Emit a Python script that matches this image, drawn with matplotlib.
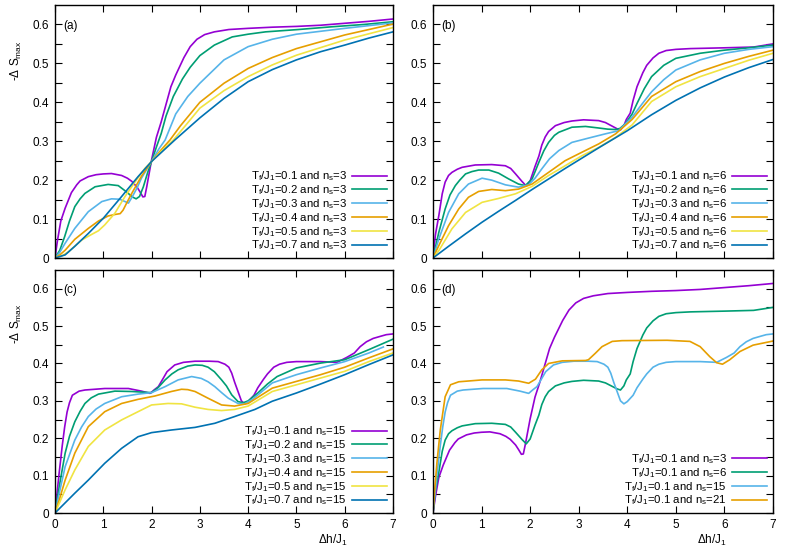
import matplotlib
matplotlib.use('Agg')
import matplotlib.pyplot as plt
import matplotlib.transforms as mtransforms

plt.rcParams['font.family'] = ['Liberation Sans', 'DejaVu Sans']
plt.rcParams['mathtext.default'] = 'regular'
plt.rcParams['font.size'] = 8.5

# gnuplot default colours
purple = '#9400d3'
green = '#009e73'
skyblue = '#56b4e9'
orange = '#e69f00'
yellow = '#f0e442'
blue = '#0072b2'

temps = ['0.1', '0.2', '0.3', '0.4', '0.5', '0.7']

# ---- panel (a): n_s = 3 ----
a_x1 = [0, 0.05, 0.12, 0.21, 0.34, 0.45, 0.52, 0.69, 0.85, 1.0, 1.17, 1.38, 1.5, 1.59, 1.7, 1.76,
        1.82, 1.86, 1.9, 2.0, 2.1, 2.2, 2.3, 2.4, 2.5, 2.67, 2.8, 2.94, 3.1, 3.3, 3.6, 4.0, 4.5,
        5.0, 5.5, 6.0, 6.5, 7.0]
a_y1 = [0, 0.044, 0.095, 0.128, 0.168, 0.188, 0.198, 0.209, 0.214, 0.216, 0.217, 0.212, 0.205,
        0.197, 0.182, 0.17, 0.157, 0.158, 0.183, 0.252, 0.31, 0.35, 0.395, 0.44, 0.47, 0.515,
        0.543, 0.562, 0.574, 0.581, 0.587, 0.59, 0.593, 0.595, 0.598, 0.603, 0.608, 0.614]
a_x2 = [0, 0.1, 0.2, 0.3, 0.41, 0.52, 0.62, 0.83, 1.1, 1.31, 1.48, 1.6, 1.68, 1.75, 1.83, 1.92,
        2.0, 2.1, 2.2, 2.3, 2.45, 2.64, 2.8, 3.0, 3.3, 3.67, 4.0, 4.36, 5.04, 5.73, 6.4, 7.0]
a_y2 = [0, 0.02, 0.055, 0.095, 0.132, 0.152, 0.166, 0.183, 0.189, 0.186, 0.17, 0.157, 0.152,
        0.158, 0.183, 0.22, 0.248, 0.285, 0.32, 0.365, 0.415, 0.46, 0.49, 0.52, 0.547, 0.568,
        0.575, 0.581, 0.587, 0.594, 0.6, 0.607]
a_x3 = [0, 0.1, 0.21, 0.41, 0.69, 0.97, 1.17, 1.34, 1.45, 1.52, 1.59, 1.7, 1.79, 1.9, 2.0, 2.15,
        2.28, 2.5, 2.75, 3.0, 3.5, 4.0, 4.5, 5.0, 6.0, 7.0]
a_y3 = [0, 0.015, 0.038, 0.076, 0.119, 0.145, 0.152, 0.151, 0.145, 0.141, 0.155, 0.18, 0.205,
        0.228, 0.248, 0.28, 0.303, 0.37, 0.415, 0.449, 0.509, 0.543, 0.562, 0.575, 0.59, 0.604]
a_x4 = [0, 0.1, 0.21, 0.41, 0.69, 0.9, 1.1, 1.25, 1.35, 1.41, 1.5, 1.59, 1.79, 2.0, 2.2, 2.38,
        2.6, 3.0, 3.5, 4.0, 4.5, 5.0, 6.0, 7.0]
a_y4 = [0, 0.008, 0.02, 0.048, 0.076, 0.095, 0.108, 0.112, 0.114, 0.123, 0.145, 0.166, 0.21,
        0.248, 0.278, 0.303, 0.34, 0.4, 0.449, 0.487, 0.515, 0.538, 0.573, 0.601]
a_x5 = [0, 0.15, 0.28, 0.55, 0.75, 0.9, 1.03, 1.15, 1.24, 1.45, 1.66, 1.86, 2.0, 2.2, 2.45, 2.7,
        3.0, 3.5, 4.0, 4.5, 5.0, 6.0, 7.0]
a_y5 = [0, 0.006, 0.016, 0.046, 0.06, 0.07, 0.085, 0.102, 0.115, 0.158, 0.196, 0.23, 0.248,
        0.274, 0.303, 0.34, 0.385, 0.43, 0.466, 0.496, 0.521, 0.56, 0.592]
a_x6 = [0, 0.21, 0.41, 0.69, 1.0, 1.38, 1.72, 2.0, 2.48, 3.0, 3.5, 4.0, 4.5, 5.0, 5.5, 6.0, 6.5, 7.0]
a_y6 = [0, 0.008, 0.03, 0.063, 0.102, 0.158, 0.209, 0.248, 0.303, 0.36, 0.41, 0.453, 0.484,
        0.509, 0.53, 0.547, 0.565, 0.581]

# ---- panel (b): n_s = 6 ----
b_x1 = [0, 0.05, 0.12, 0.19, 0.25, 0.32, 0.39, 0.5, 0.6, 0.87, 1.21, 1.49, 1.6, 1.7, 1.83, 1.92,
        2.0, 2.1, 2.18, 2.24, 2.31, 2.38, 2.52, 2.7, 2.86, 3.1, 3.41, 3.55, 3.7, 3.79, 3.86,
        3.93, 3.98, 4.06, 4.12, 4.2, 4.32, 4.4, 4.53, 4.65, 4.8, 5.0, 5.3, 6.0, 6.6, 7.0]
b_y1 = [0, 0.06, 0.109, 0.165, 0.195, 0.212, 0.22, 0.228, 0.233, 0.239, 0.24, 0.237, 0.23,
        0.216, 0.197, 0.185, 0.198, 0.235, 0.262, 0.29, 0.311, 0.325, 0.34, 0.348, 0.352, 0.355,
        0.353, 0.348, 0.338, 0.332, 0.329, 0.34, 0.356, 0.372, 0.405, 0.44, 0.476, 0.495, 0.514,
        0.526, 0.533, 0.536, 0.538, 0.54, 0.542, 0.55]
b_x2 = [0, 0.12, 0.25, 0.35, 0.46, 0.55, 0.67, 0.8, 0.94, 1.15, 1.35, 1.56, 1.76, 1.9, 2.04,
        2.18, 2.28, 2.38, 2.5, 2.59, 2.86, 3.14, 3.41, 3.6, 3.76, 3.85, 3.96, 4.1, 4.2, 4.35,
        4.5, 4.75, 5.0, 5.5, 6.0, 6.5, 7.0]
b_y2 = [0, 0.066, 0.126, 0.162, 0.186, 0.2, 0.216, 0.222, 0.226, 0.226, 0.218, 0.203, 0.19,
        0.186, 0.203, 0.246, 0.275, 0.297, 0.315, 0.323, 0.336, 0.338, 0.334, 0.331, 0.33,
        0.333, 0.345, 0.37, 0.397, 0.435, 0.466, 0.495, 0.513, 0.526, 0.534, 0.54, 0.547]
b_x3 = [0, 0.12, 0.32, 0.53, 0.73, 1.01, 1.21, 1.49, 1.76, 1.97, 2.1, 2.24, 2.4, 2.59, 2.86, 3.2,
        3.55, 3.82, 4.1, 4.3, 4.5, 4.75, 5.0, 5.5, 6.0, 6.5, 7.0]
b_y3 = [0, 0.049, 0.117, 0.165, 0.19, 0.205, 0.2, 0.188, 0.182, 0.188, 0.205, 0.229, 0.255,
        0.276, 0.297, 0.308, 0.319, 0.327, 0.362, 0.395, 0.427, 0.458, 0.483, 0.509, 0.526,
        0.536, 0.543]
b_x4 = [0, 0.12, 0.32, 0.53, 0.73, 0.94, 1.21, 1.49, 1.76, 2.04, 2.38, 2.72, 3.07, 3.41, 3.76,
        4.1, 4.5, 5.0, 5.5, 6.0, 6.5, 7.0]
b_y4 = [0, 0.032, 0.083, 0.126, 0.156, 0.171, 0.176, 0.173, 0.177, 0.19, 0.22, 0.25, 0.272,
        0.293, 0.319, 0.356, 0.415, 0.453, 0.479, 0.5, 0.518, 0.534]
b_x5 = [0, 0.12, 0.39, 0.67, 1.01, 1.35, 1.7, 2.04, 2.38, 2.72, 3.07, 3.41, 3.76, 4.1, 4.5, 5.0,
        5.5, 6.0, 6.5, 7.0]
b_y5 = [0, 0.019, 0.075, 0.117, 0.143, 0.153, 0.165, 0.184, 0.212, 0.237, 0.263, 0.284, 0.31,
        0.342, 0.402, 0.44, 0.466, 0.487, 0.508, 0.526]
b_x6 = [0, 0.32, 0.67, 1.01, 1.35, 1.7, 2.04, 2.72, 3.41, 4.0, 4.5, 5.0, 5.5, 6.0, 6.5, 7.0]
b_y6 = [0, 0.03, 0.062, 0.092, 0.12, 0.148, 0.176, 0.23, 0.283, 0.327, 0.368, 0.405, 0.437,
        0.465, 0.489, 0.51]

# ---- panel (c): n_s = 15 ----
c_x1 = [0, 0.04, 0.08, 0.15, 0.2, 0.25, 0.3, 0.36, 0.5, 0.62, 1.03, 1.52, 1.79, 1.97, 2.06,
        2.14, 2.24, 2.32, 2.48, 2.66, 2.9, 3.2, 3.38, 3.52, 3.6, 3.66, 3.72, 3.79, 3.86, 3.93,
        4.0, 4.12, 4.2, 4.32, 4.4, 4.53, 4.65, 4.8, 5.0, 5.5, 5.84, 6.04, 6.2, 6.32, 6.45,
        6.59, 6.75, 6.86, 7.0]
c_y1 = [0, 0.05, 0.1, 0.18, 0.23, 0.27, 0.295, 0.315, 0.326, 0.329, 0.333, 0.333, 0.326, 0.32,
        0.33, 0.338, 0.36, 0.378, 0.396, 0.403, 0.406, 0.406, 0.405, 0.398, 0.39, 0.374, 0.35,
        0.325, 0.3, 0.292, 0.298, 0.315, 0.335, 0.358, 0.372, 0.39, 0.398, 0.403, 0.405, 0.405,
        0.403, 0.416, 0.428, 0.445, 0.458, 0.467, 0.473, 0.477, 0.479]
c_x2 = [0, 0.1, 0.21, 0.3, 0.41, 0.52, 0.62, 0.75, 0.9, 1.24, 1.59, 2.0, 2.14, 2.28, 2.42, 2.55,
        2.75, 2.9, 3.05, 3.17, 3.3, 3.45, 3.55, 3.66, 3.79, 3.9, 4.0, 4.2, 4.4, 4.6, 5.0, 5.5,
        6.0, 6.5, 7.0]
c_y2 = [0, 0.08, 0.16, 0.205, 0.244, 0.272, 0.293, 0.308, 0.318, 0.326, 0.325, 0.322, 0.336,
        0.356, 0.372, 0.383, 0.393, 0.396, 0.395, 0.39, 0.378, 0.356, 0.34, 0.316, 0.298,
        0.295, 0.3, 0.321, 0.345, 0.365, 0.388, 0.401, 0.41, 0.437, 0.465]
c_x3 = [0, 0.1, 0.21, 0.41, 0.55, 0.69, 0.85, 1.03, 1.38, 1.72, 2.0, 2.28, 2.55, 2.83, 3.03,
        3.17, 3.31, 3.45, 3.59, 3.79, 3.93, 4.1, 4.5, 5.0, 5.5, 6.0, 6.5, 6.8]
c_y3 = [0, 0.06, 0.124, 0.195, 0.23, 0.258, 0.278, 0.293, 0.311, 0.318, 0.322, 0.338, 0.356,
        0.365, 0.36, 0.351, 0.338, 0.322, 0.307, 0.293, 0.292, 0.305, 0.348, 0.37, 0.388,
        0.405, 0.428, 0.444]
c_x4 = [0, 0.1, 0.21, 0.41, 0.69, 1.03, 1.38, 1.72, 2.07, 2.41, 2.62, 2.75, 2.9, 3.17, 3.45,
        3.72, 4.0, 4.5, 5.0, 5.5, 6.0, 6.5, 7.0]
c_y4 = [0, 0.04, 0.088, 0.16, 0.231, 0.271, 0.293, 0.304, 0.313, 0.325, 0.331, 0.33, 0.325,
        0.307, 0.289, 0.286, 0.293, 0.334, 0.352, 0.37, 0.39, 0.415, 0.439]
c_x5 = [0, 0.21, 0.41, 0.69, 1.03, 1.38, 1.72, 2.0, 2.34, 2.62, 2.9, 3.17, 3.45, 3.72, 4.0, 4.5,
        5.0, 5.5, 6.0, 6.5, 7.0]
c_y5 = [0, 0.062, 0.115, 0.178, 0.222, 0.249, 0.271, 0.289, 0.293, 0.292, 0.283, 0.277, 0.274,
        0.277, 0.286, 0.325, 0.343, 0.361, 0.379, 0.405, 0.428]
c_x6 = [0, 0.41, 0.69, 1.03, 1.38, 1.72, 2.0, 2.41, 2.9, 3.31, 3.72, 4.14, 4.5, 5.0, 5.5, 6.0,
        6.5, 7.0]
c_y6 = [0, 0.053, 0.088, 0.133, 0.173, 0.204, 0.215, 0.222, 0.229, 0.24, 0.258, 0.277, 0.299,
        0.321, 0.345, 0.37, 0.397, 0.423]

# ---- panel (d): T_f/J_1 = 0.1, n_s = 21 (other n_s reuse the curves above) ----
d_x21 = [0, 0.04, 0.08, 0.15, 0.25, 0.36, 0.53, 1.01, 1.49, 1.76, 1.97, 2.11, 2.24, 2.38, 2.66,
         3.14, 3.2, 3.34, 3.48, 3.69, 3.89, 4.82, 5.29, 5.5, 5.7, 5.84, 5.96, 6.11, 6.32, 6.59,
         7.0]
d_y21 = [0, 0.07, 0.133, 0.222, 0.311, 0.343, 0.351, 0.356, 0.356, 0.353, 0.347, 0.358, 0.383,
         0.4, 0.407, 0.408, 0.41, 0.427, 0.445, 0.459, 0.461, 0.462, 0.459, 0.445, 0.418, 0.402,
         0.398, 0.41, 0.432, 0.449, 0.46]

colors6 = [purple, green, skyblue, orange, yellow, blue]

fig = plt.figure(figsize=(7.89, 5.52), dpi=100)
W, H = 789.0, 552.0


def make_axes(left, right, top, bottom):
    return fig.add_axes([left / W, 1 - bottom / H, (right - left) / W, (bottom - top) / H])


ax_a = make_axes(55, 393, 5, 258)
ax_b = make_axes(433, 773, 5, 258)
ax_c = make_axes(55, 393, 270, 513)
ax_d = make_axes(433, 773, 270, 513)

yticks = [i * 0.05 for i in range(13)]
ylabels = ['0' if i == 0 else ('%.1f' % (i * 0.05) if i % 2 == 0 else '') for i in range(13)]


def style(ax, tag, bottom_labels, left_title):
    ax.set_xlim(0, 7)
    ax.set_ylim(0, 0.65)
    ax.set_xticks(range(8))
    ax.set_yticks(yticks)
    ax.set_yticklabels(ylabels)
    if not bottom_labels:
        ax.set_xticklabels([])
    ax.tick_params(direction='in', top=True, right=True, length=5, width=0.8, pad=4.5,
                   labelsize=8.5)
    for s in ax.spines.values():
        s.set_linewidth(1.0)
    ax.text(0.17, 0.597, tag, va='center', ha='left')
    if left_title:
        ax.text(-0.115, 0.78, '-Δ S$_{max}$', transform=ax.transAxes, rotation=90,
                ha='center', va='center')
    if bottom_labels:
        tr = mtransforms.blended_transform_factory(ax.transData, ax.transAxes)
        ax.text(5.75, -0.115, 'Δh/J$_1$', transform=tr, ha='center', va='center')


def legend(ax):
    ax.legend(loc='lower right', frameon=False, markerfirst=False, fontsize=8.2,
              handlelength=3.1, handletextpad=0.45, labelspacing=0.0,
              borderaxespad=0.3, borderpad=0.2)


panels = [
    (ax_a, '3', [(a_x1, a_y1), (a_x2, a_y2), (a_x3, a_y3), (a_x4, a_y4), (a_x5, a_y5), (a_x6, a_y6)]),
    (ax_b, '6', [(b_x1, b_y1), (b_x2, b_y2), (b_x3, b_y3), (b_x4, b_y4), (b_x5, b_y5), (b_x6, b_y6)]),
    (ax_c, '15', [(c_x1, c_y1), (c_x2, c_y2), (c_x3, c_y3), (c_x4, c_y4), (c_x5, c_y5), (c_x6, c_y6)]),
]
for ax, ns, curves in panels:
    for (x, y), t, col in zip(curves, temps, colors6):
        ax.plot(x, y, color=col, lw=1.2,
                label='T$_f$/J$_1$=%s and n$_s$=%s' % (t, ns))
    legend(ax)

# panel (d)
d_curves = [(a_x1, a_y1, '3', purple), (b_x1, b_y1, '6', green),
            (c_x1, c_y1, '15', skyblue), (d_x21, d_y21, '21', orange)]
for x, y, ns, col in d_curves:
    ax_d.plot(x, y, color=col, lw=1.2, label='T$_f$/J$_1$=0.1 and n$_s$=%s' % ns)
legend(ax_d)

style(ax_a, '(a)', False, True)
style(ax_b, '(b)', False, False)
style(ax_c, '(c)', True, True)
style(ax_d, '(d)', True, False)

fig.savefig('out.png', dpi=100)
